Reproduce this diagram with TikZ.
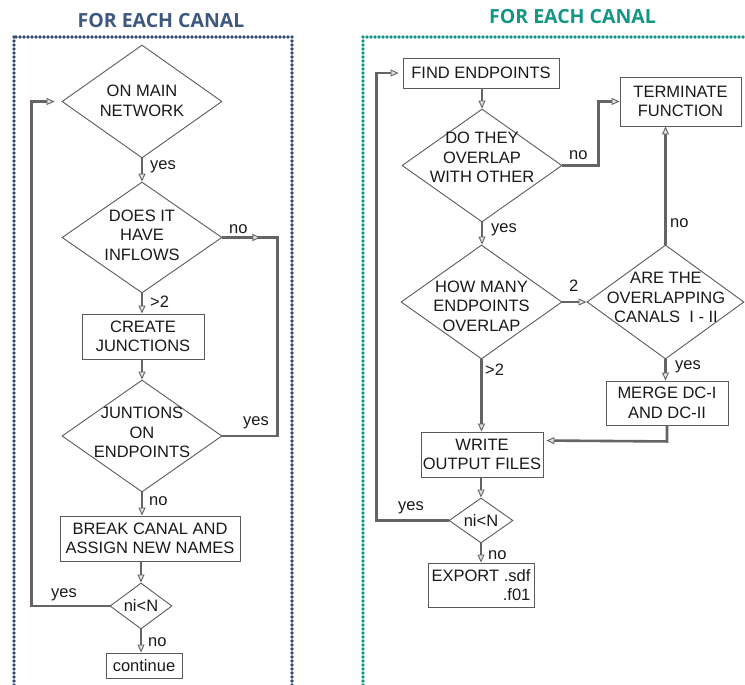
\documentclass[tikz,border=0pt]{standalone}
\usepackage{fontspec}
\setmainfont{Liberation Sans}
\newfontfamily\titlefont{Open Sans}
\usetikzlibrary{shapes.geometric,arrows.meta,calc}
\definecolor{titleblue}{RGB}{62,88,128}
\definecolor{bordblue}{RGB}{50,76,120}
\definecolor{teal}{RGB}{20,150,134}
\definecolor{linec}{RGB}{100,100,100}
\definecolor{nodeline}{RGB}{90,90,90}
\definecolor{txtc}{RGB}{25,25,25}
\definecolor{tipfill}{RGB}{225,225,225}
\begin{document}
\begin{tikzpicture}[x=1pt,y=-1pt,
  fnt/.style={font=\fontsize{16.5}{19.5}\selectfont},
  box/.style={draw=nodeline, line width=0.9pt, fill=white, inner sep=0pt, fnt, text=txtc, align=center},
  dia/.style={diamond, draw=nodeline, line width=0.9pt, fill=white, inner sep=0pt},
  txt/.style={fnt, text=txtc, align=center, inner sep=0pt},
  lbl/.style={fnt, text=txtc, inner sep=0pt},
  conn/.style={draw=linec, line width=2.6pt},
  arr/.style={conn, -{Triangle[length=8pt,width=7pt,line width=0.9pt,fill=tipfill]}},
  ttl/.style={font=\titlefont\bfseries\fontsize{19.5}{21}\selectfont, inner sep=0pt},
  dotbord/.style={line width=3.6pt, dash pattern=on 0pt off 4pt, line cap=round}
]
\useasboundingbox (0,0) rectangle (745,685);
\begin{scope}
\clip (0,0) rectangle (745,685);
\draw[dotbord, draw=bordblue] (14,37) rectangle (292,720);
\draw[dotbord, draw=teal] (363,37) rectangle (800,720);
\end{scope}
\node[ttl, text=titleblue] (tL) at (161,21) {FOR EACH CANAL};
\node[ttl, text=teal] (tR) at (572.5,17) {FOR EACH CANAL};

% ---------- left flow ----------
\node[dia, minimum width=160pt, minimum height=113pt] (d1) at (142,101.5) {};
\node[txt] (d1t) at (142,101) {ON MAIN\\NETWORK};
\node[dia, minimum width=160pt, minimum height=111pt] (d2) at (142,237.5) {};
\node[txt] (d2t) at (142,235) {DOES IT\\HAVE\\INFLOWS};
\node[box, minimum width=122pt, minimum height=45pt] (r1) at (143,336.5) {CREATE\\JUNCTIONS};
\node[dia, minimum width=160pt, minimum height=112pt] (d3) at (142,436) {};
\node[txt] (d3t) at (142,432.5) {JUNTIONS\\ON\\ENDPOINTS};
\node[box, minimum width=180pt, minimum height=45pt] (r2) at (150,538.5) {BREAK CANAL AND\\ASSIGN NEW NAMES};
\node[dia, minimum width=62pt, minimum height=46pt] (d4) at (141,606) {};
\node[txt] (d4t) at (141,606) {ni<N};
\node[box, minimum width=76pt, minimum height=25pt] (r3) at (144,665.5) {continue};

\draw[arr] (d1.south) -- (d2.north);
\draw[arr] (d2.south) -- (d2.south |- r1.north);
\draw[arr] (r1.south -| d3.north) -- (d3.north);
\draw[arr] (d3.south) -- (d3.south |- r2.north);
\draw[arr] (d4.north |- r2.south) -- (d4.north);
\draw[arr] (d4.south) -- (d4.south |- r3.north);
\draw[arr, shorten >=7pt] (d4.west) -- ++(-78,0) |- (d1.west);
\draw[conn] (d2.east) -- ++(55,0) |- (d3.east);
\draw[arr] (d2.east) -- ++(38,0);

\node[lbl, anchor=west] (l1) at (150,167) {yes};
\node[lbl, anchor=west] (l2) at (150,302) {>2};
\node[lbl, anchor=west] (l3) at (149,501) {no};
\node[lbl, anchor=west] (l4) at (148,642) {no};
\node[lbl, anchor=west] (l5) at (51,595) {yes};
\node[lbl, anchor=west] (l6) at (229,229) {no};
\node[lbl, anchor=west] (l7) at (243,423) {yes};

% ---------- right flow ----------
\node[box, minimum width=156pt, minimum height=30pt] (f1) at (481,73) {FIND ENDPOINTS};
\node[box, minimum width=121pt, minimum height=49pt] (t1) at (680.5,101.5) {TERMINATE\\FUNCTION};
\node[dia, minimum width=160pt, minimum height=113pt] (rd1) at (482,165.5) {};
\node[txt] (rd1t) at (482,157.5) {DO THEY\\OVERLAP\\WITH OTHER};
\node[dia, minimum width=161pt, minimum height=114pt] (rd2) at (481.5,302) {};
\node[txt] (rd2t) at (481.5,306) {HOW MANY\\ENDPOINTS\\OVERLAP};
\node[dia, minimum width=157pt, minimum height=114pt] (rd3) at (665.5,302) {};
\node[txt] (rd3t) at (666,297.5) {ARE THE\\OVERLAPPING\\CANALS\ \ I - II};
\node[box, minimum width=122pt, minimum height=44pt] (m1) at (667,403) {MERGE DC-I\\AND DC-II};
\node[box, minimum width=122pt, minimum height=45pt] (w1) at (482,454.5) {WRITE\\OUTPUT FILES};
\node[dia, minimum width=64pt, minimum height=45pt] (rd4) at (481,520.5) {};
\node[txt] (rd4t) at (481,520.5) {ni<N};
\node[box, minimum width=106pt, minimum height=44pt, align=right] (e1) at (481,585) {EXPORT .sdf\\.f01};

\draw[arr] (f1.south -| rd1.north) -- (rd1.north);
\draw[arr] (rd1.east) -- ++(36,0) |- (t1.west);
\draw[arr] (rd1.south) -- (rd1.south |- rd2.north);
\draw[arr] (rd2.east) -- (rd3.west);
\draw[arr] (rd3.north) -- (rd3.north |- t1.south);
\draw[arr] (rd3.south) -- (rd3.south |- m1.north);
\draw[arr] (rd2.south) -- (rd2.south |- w1.north);
\draw[arr] (m1.south) -- ++(0,16) -- ($(w1.north east)+(3,9)$);
\draw[arr] (w1.south -| rd4.north) -- (rd4.north);
\draw[arr] (rd4.south) -- (rd4.south |- e1.north);
\draw[arr, shorten >=4pt] (rd4.west) -- ++(-72,0) |- (f1.west);

\node[lbl, anchor=west] (q1) at (569,155) {no};
\node[lbl, anchor=west] (q2) at (491,230) {yes};
\node[lbl, anchor=west] (q3) at (569,286) {2};
\node[lbl, anchor=west] (q4) at (670,223) {no};
\node[lbl, anchor=west] (q5) at (675,367) {yes};
\node[lbl, anchor=west] (q6) at (485,370) {>2};
\node[lbl, anchor=west] (q7) at (398,508) {yes};
\node[lbl, anchor=west] (q8) at (488,555) {no};
\end{tikzpicture}
\end{document}
